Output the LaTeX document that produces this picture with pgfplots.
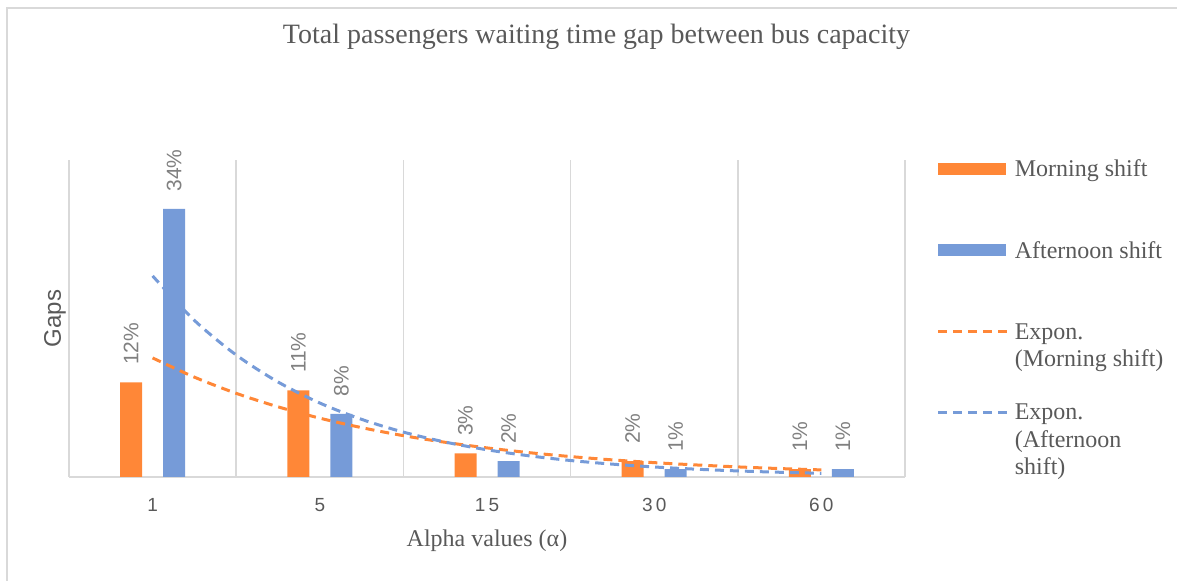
\documentclass[border=0pt]{standalone}
\usepackage{fontspec}
\setmainfont{Liberation Serif}
\setsansfont{Liberation Sans}
\usepackage{pgfplots}
\pgfplotsset{compat=1.18}

\definecolor{morning}{RGB}{255,135,55}
\definecolor{afternoon}{RGB}{118,155,216}
\definecolor{gridgray}{RGB}{217,217,217}
\definecolor{txtgray}{RGB}{89,89,89}
\definecolor{lblgray}{RGB}{128,128,128}

\tikzset{
  legtext/.style={anchor=base west, inner sep=0pt, text=txtgray,
    font=\fontsize{12}{13.75}\selectfont},
  trend/.style={line width=1.5pt, dash pattern=on 4.5pt off 3pt},
  barlabel/.style={rotate=90, anchor=west, inner xsep=8.5pt, inner ysep=0pt,
    font=\sffamily\fontsize{10.5}{12}\selectfont, text=lblgray},
}

\begin{document}
\begin{tikzpicture}
\path[use as bounding box] (0pt,0pt) rectangle (588.5pt,-290.5pt);
% chart area frame
\draw[gridgray, line width=0.75pt] (3.5pt,-290.5pt) -- (3.5pt,-4pt) -- (588.5pt,-4pt);

\begin{axis}[
  at={(34.5pt,-238.5pt)}, anchor=south west,
  width=418pt, height=158.5pt, scale only axis,
  clip=false,
  xmin=0.5, xmax=5.5, ymin=0, ymax=40.2,
  axis x line*=bottom, axis y line*=left,
  x axis line style={draw=gridgray, line width=1pt},
  y axis line style={draw=none},
  xtick={1,2,3,4,5},
  xticklabels={1,5,1\kern1.6pt5,3\kern1.6pt0,6\kern1.6pt0},
  major tick length=0pt, minor tick length=0pt,
  minor xtick={0.5,1.5,2.5,3.5,4.5,5.5},
  xminorgrids,
  minor grid style={draw=gridgray, line width=0.75pt},
  ytick=\empty,
  /pgf/number format/assume math mode=true,
  xticklabel style={font=\sffamily\fontsize{9.5}{11}\selectfont, text=txtgray,
    anchor=base, yshift=-17.5pt},
  title={Total passengers waiting time gap between bus capacity},
  title style={at={(axis description cs:0.631,1.329)}, anchor=base,
    font=\fontsize{14}{16}\selectfont, text=txtgray},
  xlabel={Alpha values (α)},
  xlabel style={at={(axis description cs:0.5,0)}, anchor=base, yshift=-35pt,
    font=\fontsize{12}{14}\selectfont, text=txtgray},
  ylabel={Gaps},
  ylabel style={at={(axis description cs:-0.0096,0.5)}, anchor=base,
    font=\sffamily\fontsize{12}{14}\selectfont, text=txtgray},
]

% Morning shift (%)
\addplot[ybar, bar width=11pt, bar shift=-10.75pt, fill=morning, draw=none,
  every node near coord/.style={xshift=-10.75pt, barlabel},
  nodes near coords={\pgfmathprintnumber{\pgfplotspointmeta}\%}]
  coordinates {(1,12) (2,11) (3,3) (4,2) (5,1)};

% Afternoon shift (%)
\addplot[ybar, bar width=11pt, bar shift=10.75pt, fill=afternoon, draw=none,
  every node near coord/.style={xshift=10.75pt, barlabel},
  nodes near coords={\pgfmathprintnumber{\pgfplotspointmeta}\%}]
  coordinates {(1,34) (2,8) (3,2) (4,1) (5,1)};

% Exponential trend, morning shift
\addplot[morning, trend, smooth, mark=none] coordinates {
  (1,15.1) (1.25,12.66) (1.5,10.61) (1.75,8.90) (2,7.46) (2.25,6.26)
  (2.5,5.24) (2.75,4.40) (3,3.69) (3.25,3.09) (3.5,2.59) (3.75,2.17)
  (4,1.82) (4.25,1.53) (4.5,1.28) (4.75,1.07) (5,0.90)};

% Exponential trend, afternoon shift
\addplot[afternoon, trend, smooth, mark=none] coordinates {
  (1,25.5) (1.25,19.86) (1.5,15.47) (1.75,12.05) (2,9.38) (2.25,7.31)
  (2.5,5.69) (2.75,4.43) (3,3.45) (3.25,2.69) (3.5,2.09) (3.75,1.63)
  (4,1.27) (4.25,0.99) (4.5,0.77) (4.75,0.60) (5,0.47)};
\end{axis}

% legend
\fill[morning] (469pt,-81.5pt) rectangle (503pt,-87.5pt);
\node[legtext] at (507.2pt,-88.3pt) {Morning shift};
\fill[afternoon] (469pt,-122.2pt) rectangle (503pt,-128pt);
\node[legtext] at (507.2pt,-129.2pt) {Afternoon shift};
\draw[morning, trend] (469pt,-165.9pt) -- (503.5pt,-165.9pt);
\node[legtext] at (507.2pt,-169.7pt) {Expon.};
\node[legtext] at (507.2pt,-183.4pt) {(Morning shift)};
\draw[afternoon, trend] (469pt,-206.4pt) -- (503.5pt,-206.4pt);
\node[legtext] at (507.2pt,-210pt) {Expon.};
\node[legtext] at (507.2pt,-223.7pt) {(Afternoon};
\node[legtext] at (507.2pt,-237.2pt) {shift)};
\end{tikzpicture}
\end{document}
